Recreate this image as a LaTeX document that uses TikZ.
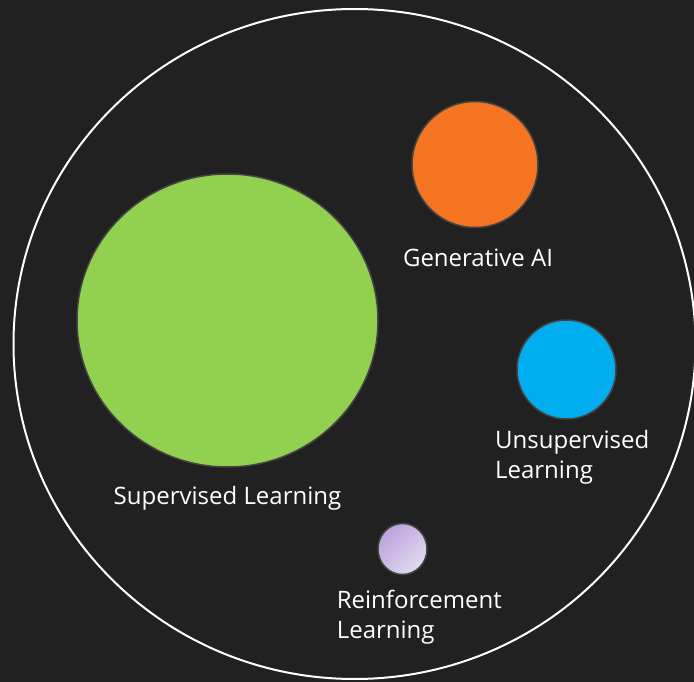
\documentclass[tikz,border=0pt]{standalone}
\usepackage{fontspec}
\setmainfont{Open Sans}
\usepackage{xcolor}
\usetikzlibrary{positioning,shapes.geometric}
\definecolor{bgdark}{HTML}{212121}
\definecolor{rimgray}{HTML}{444444}
\definecolor{supgreen}{HTML}{92D050}
\definecolor{genorange}{HTML}{F47421}
\definecolor{unsblue}{HTML}{00AEEF}
\definecolor{reflilac}{HTML}{B9A3DA}
\definecolor{reflight}{HTML}{E3DAF0}
\tikzset{blob/.style={
    % The shape:
    ellipse,inner sep=0pt,
    % The rest
    line width=1.5pt,draw=rimgray
  },
  tag/.style={
    inner sep=0pt,text=white,align=left,
    font=\fontsize{24}{30}\selectfont
  }
}

\begin{document}
\begin{tikzpicture}[x=1pt,y=-1pt]
      \fill[bgdark] (0,0) rectangle (694,682);
      \useasboundingbox (0,0) rectangle (694,682);
      \draw[white,line width=2pt] (354.5,344) ellipse [x radius=341,y radius=335];

      \node (sup) [blob,fill=supgreen,minimum width=301pt,minimum height=293pt] at (227.5,320.5) {};
      \node (gen) [blob,fill=genorange,minimum width=126pt,minimum height=126pt] at (475,164.5) {};
      \node (uns) [blob,fill=unsblue,minimum width=99pt,minimum height=99pt] at (566.5,369.5) {};
      \node (ref) [blob,top color=reflilac,bottom color=reflight,shading angle=45,
        minimum width=49pt,minimum height=51pt] at (402.5,549) {};

      \node (suptag) [tag,below=18pt of sup] {Supervised Learning};
      \node (gentag) [tag,below=20pt of gen,xshift=3pt] {Generative AI};
      \node (unstag) [tag,below=25pt of uns.south west,anchor=north west,xshift=-36pt] {Unsupervised\\Learning};
      \node (reftag) [tag,below=22pt of ref.south west,anchor=north west,xshift=-48pt] {Reinforcement\\Learning};
    \end{tikzpicture}
\end{document}
